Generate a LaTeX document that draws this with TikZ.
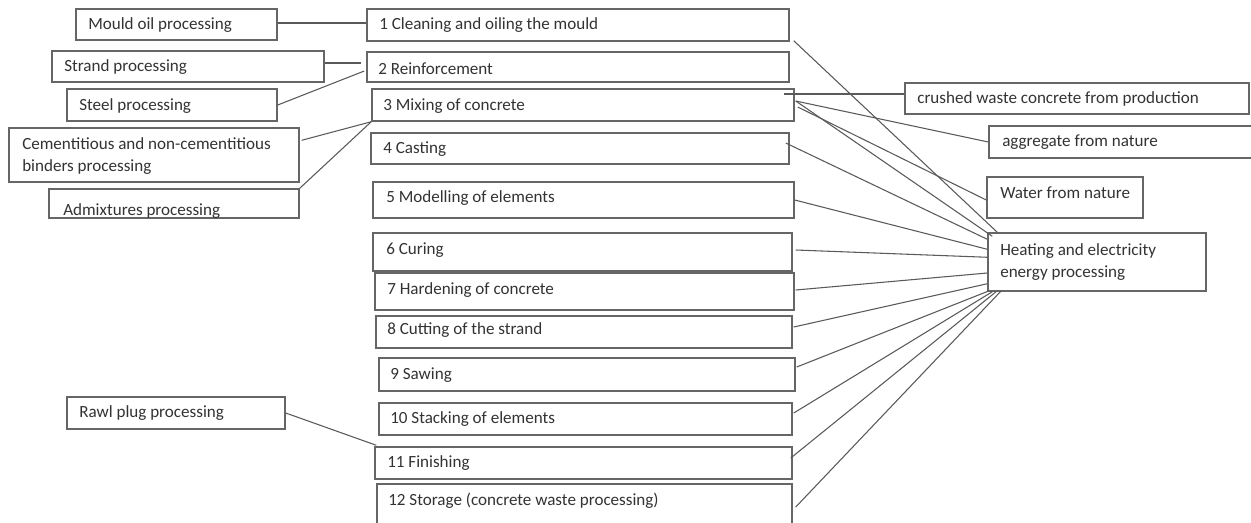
\documentclass[tikz,border=0pt]{standalone}
\usepackage{fontspec}
\setmainfont{Carlito}
\usetikzlibrary{calc,fit}
\definecolor{boxgray}{HTML}{666666}
\definecolor{linegray}{HTML}{5A5A5A}
\definecolor{txtgray}{HTML}{333333}
\newcommand\mkbox[5]{\node[box, fit={(#2,#3) (#4,#5)}] (#1) {};}
\begin{document}
\begin{tikzpicture}[x=0.75pt,y=-0.75pt,
  box/.style={draw=boxgray, line width=1.1pt, inner sep=0pt},
  txt/.style={anchor=west, inner sep=0pt, text=txtgray, font=\fontsize{12.8}{16.4}\selectfont, align=left},
  conn/.style={draw=linegray, line width=0.8pt}]
\clip (0,0) rectangle (1251,522);
\fill[white] (0,0) rectangle (1251,522);
% left boxes
\mkbox{mould}{76}{9}{277}{40}
\mkbox{strand}{52}{51}{324}{82}
\mkbox{steel}{67}{89}{277}{121}
\mkbox{cement}{9}{128}{299}{182}
\mkbox{admix}{49}{189}{299}{218}
\mkbox{rawl}{67}{397}{285}{429}
% process boxes
\mkbox{b1}{367}{9}{789}{41}
\mkbox{b2}{367}{52}{789}{82}
\mkbox{b3}{372}{89}{794}{121}
\mkbox{b4}{371}{133}{789}{164}
\mkbox{b5}{373}{182}{794}{218}
\mkbox{b6}{373}{233}{792}{271}
\mkbox{b7}{375}{273}{794}{310}
\mkbox{b8}{376}{316}{792}{348}
\mkbox{b9}{379}{358}{795}{391}
\mkbox{b10}{379}{403}{792}{435}
\mkbox{b11}{375}{447}{792}{479}
\mkbox{b12}{377}{484}{792}{540}
% right boxes
\mkbox{crushed}{905}{83}{1249}{114}
\mkbox{aggr}{989}{126}{1262}{158}
\mkbox{water}{987}{177}{1143}{218}
\mkbox{heat}{988}{233}{1206}{291}
% texts
\node[txt] (t-mould) at (88,25) {Mould oil processing};
\node[txt] (t-strand) at (64,67) {Strand processing};
\node[txt] (t-steel) at (79,106) {Steel processing};
\node[txt] (t-cement) at (22,156) {Cementitious and non-cementitious\\binders processing};
\node[txt] (t-admix) at (63,211) {Admixtures processing};
\node[txt] (t-rawl) at (79,413) {Rawl plug processing};
\node[txt] (t-b1) at (379,25) {1 Cleaning and oiling the mould};
\node[txt] (t-b2) at (378,69) {2 Reinforcement};
\node[txt] (t-b3) at (383,106) {3 Mixing of concrete};
\node[txt] (t-b4) at (383,149) {4 Casting};
\node[txt] (t-b5) at (386,198) {5 Modelling of elements};
\node[txt] (t-b6) at (386,250) {6 Curing};
\node[txt] (t-b7) at (387,290) {7 Hardening of concrete};
\node[txt] (t-b8) at (387,330) {8 Cutting of the strand};
\node[txt] (t-b9) at (390,375) {9 Sawing};
\node[txt] (t-b10) at (390,419) {10 Stacking of elements};
\node[txt] (t-b11) at (387,463) {11 Finishing};
\node[txt] (t-b12) at (388,501) {12 Storage (concrete waste processing)};
\node[txt] (t-crushed) at (917,99) {crushed waste concrete from production};
\node[txt] (t-aggr) at (1002,142) {aggregate from nature};
\node[txt] (t-water) at (1000,193) {Water from nature};
\node[txt] (t-heat) at (1000,262) {Heating and electricity\\energy processing};
% left connectors
\draw[conn] (mould.east |- 0,23) -- (b1.west |- 0,23);
\draw[conn] ($(strand.east)+(0,-3.5)$) -- ($(b2.west)+(-5,-4)$);
\draw[conn] (steel.east) -- ($(b2.west)+(-2,4)$);
\draw[conn] ($(cement.north east)+(2,13)$) -- (b3.south west);
\draw[conn] (admix.north east) -- (b3.south west);
\draw[conn] (rawl.east) -- ($(b11.north west)+(2,-1)$);
% right connectors
\draw[conn] ($(b1.south east)+(4,-1)$) -- ($(heat.north west)+(10,0)$);
\draw[conn] ($(b3.east)+(-11,-11)$) -- (crushed.west |- 0,94);
\draw[conn] ($(b3.east)+(1,-4)$) -- (aggr.west);
\draw[conn] ($(b3.east)+(3,2)$) -- ($(water.west)+(0,2.5)$);
\draw[conn] ($(b3.east)+(1,-4)$) -- ($(heat.north west)+(5,4)$);
\draw[conn] ($(b4.east)+(-4,-5.5)$) -- ($(heat.north west)+(0,7)$);
\draw[conn] (b5.east) -- ($(heat.north west)+(0,17)$);
\draw[conn] ($(b6.east)+(3,-2)$) -- ($(heat.north west)+(0,25)$);
\draw[conn] ($(b7.east)+(1,-1.5)$) -- ($(heat.west)+(0,11)$);
\draw[conn] ($(b8.east)+(1,-5)$) -- ($(heat.south west)+(0,-8)$);
\draw[conn] ($(b9.east)+(1,-7.5)$) -- ($(heat.south west)+(2,-1)$);
\draw[conn] ($(b10.east)+(1,-6)$) -- ($(heat.south west)+(5,0)$);
\draw[conn] ($(b11.east)+(-2,-5)$) -- ($(heat.south west)+(10,-1)$);
\draw[conn] ($(b12.east)+(3,-5)$) -- ($(heat.south west)+(14,-1)$);
\end{tikzpicture}
\end{document}
